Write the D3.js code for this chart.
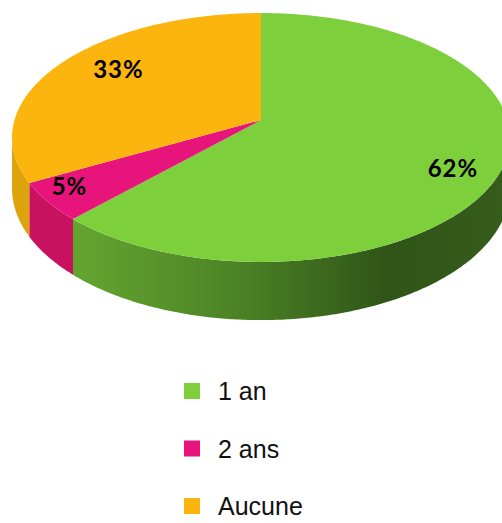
<!DOCTYPE html>
<html>
<head>
<meta charset="utf-8">
<script src="https://cdn.jsdelivr.net/npm/d3@7"></script>
<style>
  body { margin: 0; background: #fff; }
  svg { display: block; }
</style>
</head>
<body>
<div class="chart"></div>
<script>
var svgWidth = 502;
var svgHeight = 523;

// data
var categories = ["1 an", "2 ans", "Aucune"];
var values = [62, 5, 33];
var labels = ["62%", "5%", "33%"];

var topColors = ["#7dd03c", "#e6147b", "#fcb40f"];
var sideColors = ["url(#greenSide)", "#c8125f", "#dca30d"];

// 3d pie geometry (perspective)
var cx = 261, cy = 120;
var A = 246.5, B = 122, e = 0.1405, T = 50;
// label placement inside each slice: radius and position along the slice
var labelR = [0.835, 0.89, 0.74];
var labelFrac = [0.53, 0.6, 0.53];

var svg = d3.select(".chart")
  .append("svg")
  .attr("width", svgWidth)
  .attr("height", svgHeight);

var defs = svg.append("defs");
var grad = defs.append("linearGradient")
  .attr("id", "greenSide")
  .attr("gradientUnits", "userSpaceOnUse")
  .attr("x1", 60).attr("x2", 500).attr("y1", 0).attr("y2", 0);
grad.append("stop").attr("offset", "0%").attr("stop-color", "#66a831");
grad.append("stop").attr("offset", "40%").attr("stop-color", "#4c8326");
grad.append("stop").attr("offset", "75%").attr("stop-color", "#2f5417");
grad.append("stop").attr("offset", "100%").attr("stop-color", "#365c1b");

function proj(r, a, drop) {
  var u = r * Math.sin(a), v = r * Math.cos(a);
  var D = 1 + e * v;
  return [cx + A * u / D, cy - B * v / D + (drop ? T / D : 0)];
}

var pie = d3.pie().sort(null).value(d => d)
  .startAngle(0).endAngle(2 * Math.PI);
var arcs = pie(values);

var line = d3.line();

function arcPoints(a1, a2, drop) {
  var n = Math.max(2, Math.ceil((a2 - a1) / 0.01));
  return d3.range(n + 1).map(i => proj(1, a1 + (a2 - a1) * i / n, drop));
}

// outer walls (visible front part only)
var sil1 = Math.acos(-e), sil2 = 2 * Math.PI - sil1;
var wallGroup = svg.append("g");
arcs.forEach(function(d, i) {
  var a1 = Math.max(d.startAngle, sil1);
  var a2 = Math.min(d.endAngle, sil2);
  if (a2 <= a1) return;
  var pts = arcPoints(a1, a2, false).concat(arcPoints(a1, a2, true).reverse());
  wallGroup.append("path")
    .attr("d", line(pts) + "Z")
    .attr("fill", sideColors[i]);
});

// top faces
var topGroup = svg.append("g");
arcs.forEach(function(d, i) {
  var pts = [[cx, cy]].concat(arcPoints(d.startAngle, d.endAngle, false));
  topGroup.append("path")
    .attr("d", line(pts) + "Z")
    .attr("fill", topColors[i]);
});

// percentage labels
arcs.forEach(function(d, i) {
  var a = d.startAngle + (d.endAngle - d.startAngle) * labelFrac[i];
  var p = proj(labelR[i], a, false);
  svg.append("text")
    .attr("x", p[0])
    .attr("y", p[1])
    .attr("text-anchor", "middle")
    .attr("dominant-baseline", "middle")
    .style("font-family", "Lato, 'Open Sans', sans-serif")
    .style("font-size", "24px")
    .style("font-weight", "bold")
    .style("letter-spacing", "1px")
    .style("fill", "#000")
    .text(labels[i]);
});

// legend
var legendY = d3.scalePoint()
  .domain(categories)
  .range([391, 506]);

var legend = svg.append("g")
  .selectAll("g")
  .data(categories)
  .enter()
  .append("g")
  .attr("transform", d => `translate(184, ${legendY(d)})`);

legend.append("rect")
  .attr("x", 0)
  .attr("y", -8)
  .attr("width", 16)
  .attr("height", 16)
  .attr("fill", (d, i) => topColors[i]);

legend.append("text")
  .attr("x", 34)
  .attr("y", 9)
  .style("font-family", "'Liberation Sans', Arial, sans-serif")
  .style("font-size", "25px")
  .style("fill", "#111")
  .text(d => d);
</script>
</body>
</html>
